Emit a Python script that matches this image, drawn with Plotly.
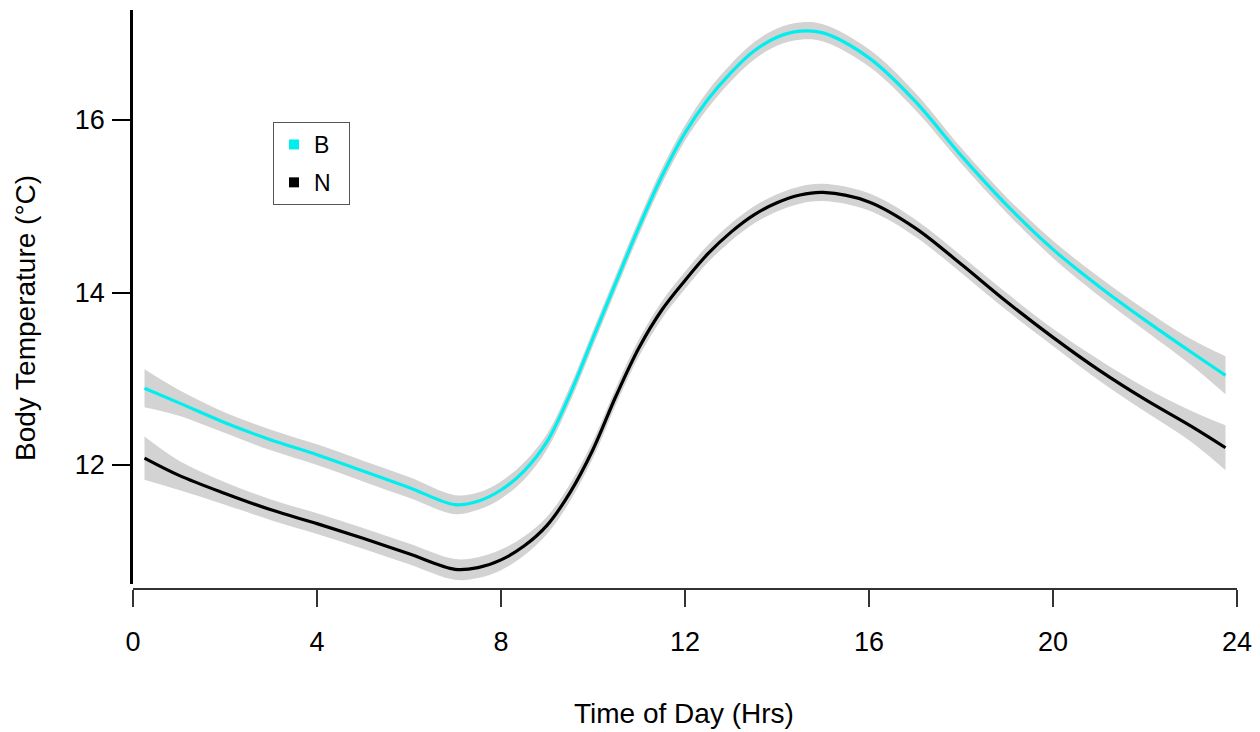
import plotly.graph_objects as go

# ---- data ----
hours = [0.25, 1, 2, 3, 4, 5, 6, 7, 7.5, 8, 8.5, 9, 9.5, 10, 10.5, 11, 11.5, 12,
         12.5, 13, 13.5, 14, 14.5, 15, 16, 17, 18, 19, 20, 21, 22, 23, 23.75]

temp_B = [12.89, 12.72, 12.49, 12.29, 12.12, 11.93, 11.74, 11.54, 11.58, 11.71, 11.93,
          12.27, 12.82, 13.47, 14.12, 14.76, 15.35, 15.85, 16.24, 16.55, 16.80, 16.96,
          17.03, 17.01, 16.72, 16.22, 15.59, 15.01, 14.50, 14.07, 13.68, 13.31, 13.04]

temp_N = [12.08, 11.88, 11.67, 11.48, 11.32, 11.15, 10.97, 10.79, 10.81, 10.90, 11.06,
          11.30, 11.68, 12.18, 12.80, 13.36, 13.80, 14.14, 14.45, 14.70, 14.90, 15.04,
          15.13, 15.16, 15.05, 14.75, 14.33, 13.89, 13.48, 13.10, 12.76, 12.45, 12.20]

ci_B = [0.22, 0.15, 0.12, 0.12, 0.12, 0.12, 0.12, 0.11, 0.1, 0.1, 0.1, 0.09, 0.09, 0.09,
        0.09, 0.09, 0.09, 0.09, 0.1, 0.1, 0.1, 0.1, 0.1, 0.1, 0.1, 0.1, 0.09, 0.09,
        0.1, 0.11, 0.12, 0.15, 0.22]

ci_N = [0.25, 0.17, 0.13, 0.12, 0.12, 0.12, 0.12, 0.12, 0.12, 0.12, 0.11, 0.1, 0.1, 0.1,
        0.1, 0.1, 0.1, 0.1, 0.1, 0.1, 0.1, 0.1, 0.1, 0.1, 0.1, 0.1, 0.1, 0.1, 0.1,
        0.12, 0.14, 0.18, 0.26]

series = [("B", temp_B, ci_B, "#00EEEE"), ("N", temp_N, ci_N, "#000000")]

x_ticks = [0, 4, 8, 12, 16, 20, 24]
y_ticks = [12, 14, 16]

BAND = "#D3D3D3"
FONT = "Liberation Sans, Arial, sans-serif"

fig = go.Figure()

# confidence bands
for name, vals, ci, col in series:
    upper = [v + c for v, c in zip(vals, ci)]
    lower = [v - c for v, c in zip(vals, ci)]
    fig.add_trace(go.Scatter(x=hours, y=upper, mode="lines",
                             line=dict(width=0, shape="spline", color=BAND),
                             showlegend=False, hoverinfo="skip"))
    fig.add_trace(go.Scatter(x=hours, y=lower, mode="lines", fill="tonexty",
                             fillcolor=BAND,
                             line=dict(width=0, shape="spline", color=BAND),
                             showlegend=False, hoverinfo="skip"))

# mean lines
for name, vals, ci, col in series:
    fig.add_trace(go.Scatter(x=hours, y=vals, mode="lines",
                             line=dict(width=3.2, shape="spline", color=col),
                             showlegend=False, name=name))

# legend entries
for name, vals, ci, col in series:
    fig.add_trace(go.Scatter(x=[None], y=[None], mode="markers",
                             name=name + "\u00a0\u00a0", legendgroup=name,
                             marker=dict(symbol="square", size=10, color=col)))

# page has an 8px body margin: build the figure so it lands on the reference pixels
OFF = 8
W, H = 1260 - OFF, 732 - OFF
L, R, T, B = 133, 1237, 10, 589          # plot area in page pixels
ml, mt = L - OFF, T - OFF
mr, mb = W - (R - OFF), H - (B - OFF)
pw, ph = R - L, B - T

def px_x(px):
    return (px - L) / pw

def px_y(py):
    return (B - py) / ph

fig.update_layout(
    width=W, height=H,
    margin=dict(l=ml, r=mr, t=mt, b=mb, pad=0),
    paper_bgcolor="white", plot_bgcolor="white",
    font=dict(family=FONT, size=28, color="black"),
    showlegend=True,
    legend=dict(x=px_x(273), y=px_y(122), xanchor="left", yanchor="top",
                bgcolor="white", bordercolor="#555555", borderwidth=1,
                font=dict(size=23, family=FONT), traceorder="grouped",
                tracegroupgap=5),
    xaxis=dict(range=[0, 24], tickvals=x_ticks, ticktext=[str(t) for t in x_ticks],
               showgrid=False, zeroline=False, showline=True, linecolor="#333333",
               linewidth=1.5, ticks="outside", ticklen=17, tickwidth=1.5,
               tickcolor="#333333", anchor="free", position=0,
               tickfont=dict(size=27), ticklabelstandoff=12,
               ticklabeloverflow="allow"),
    yaxis=dict(range=[12 - 119 / 86.25, 16 + 110 / 86.25], tickvals=y_ticks,
               ticktext=[str(t) for t in y_ticks],
               domain=[px_y(584), 1],
               showgrid=False, zeroline=False, showline=True, linecolor="black",
               linewidth=2.5, ticks="outside", ticklen=18, tickwidth=2,
               tickcolor="black", tickfont=dict(size=27), ticklabelstandoff=2),
    annotations=[
        dict(text="Time of Day (Hrs)", xref="paper", yref="paper",
             x=px_x(684), y=px_y(713), xanchor="center", yanchor="middle",
             showarrow=False, font=dict(size=28)),
        dict(text="Body Temperature (°C)", xref="paper", yref="paper",
             x=px_x(25), y=px_y(318), xanchor="center", yanchor="middle",
             textangle=-90, showarrow=False, font=dict(size=28)),
    ],
)

fig.write_html("out.html")
